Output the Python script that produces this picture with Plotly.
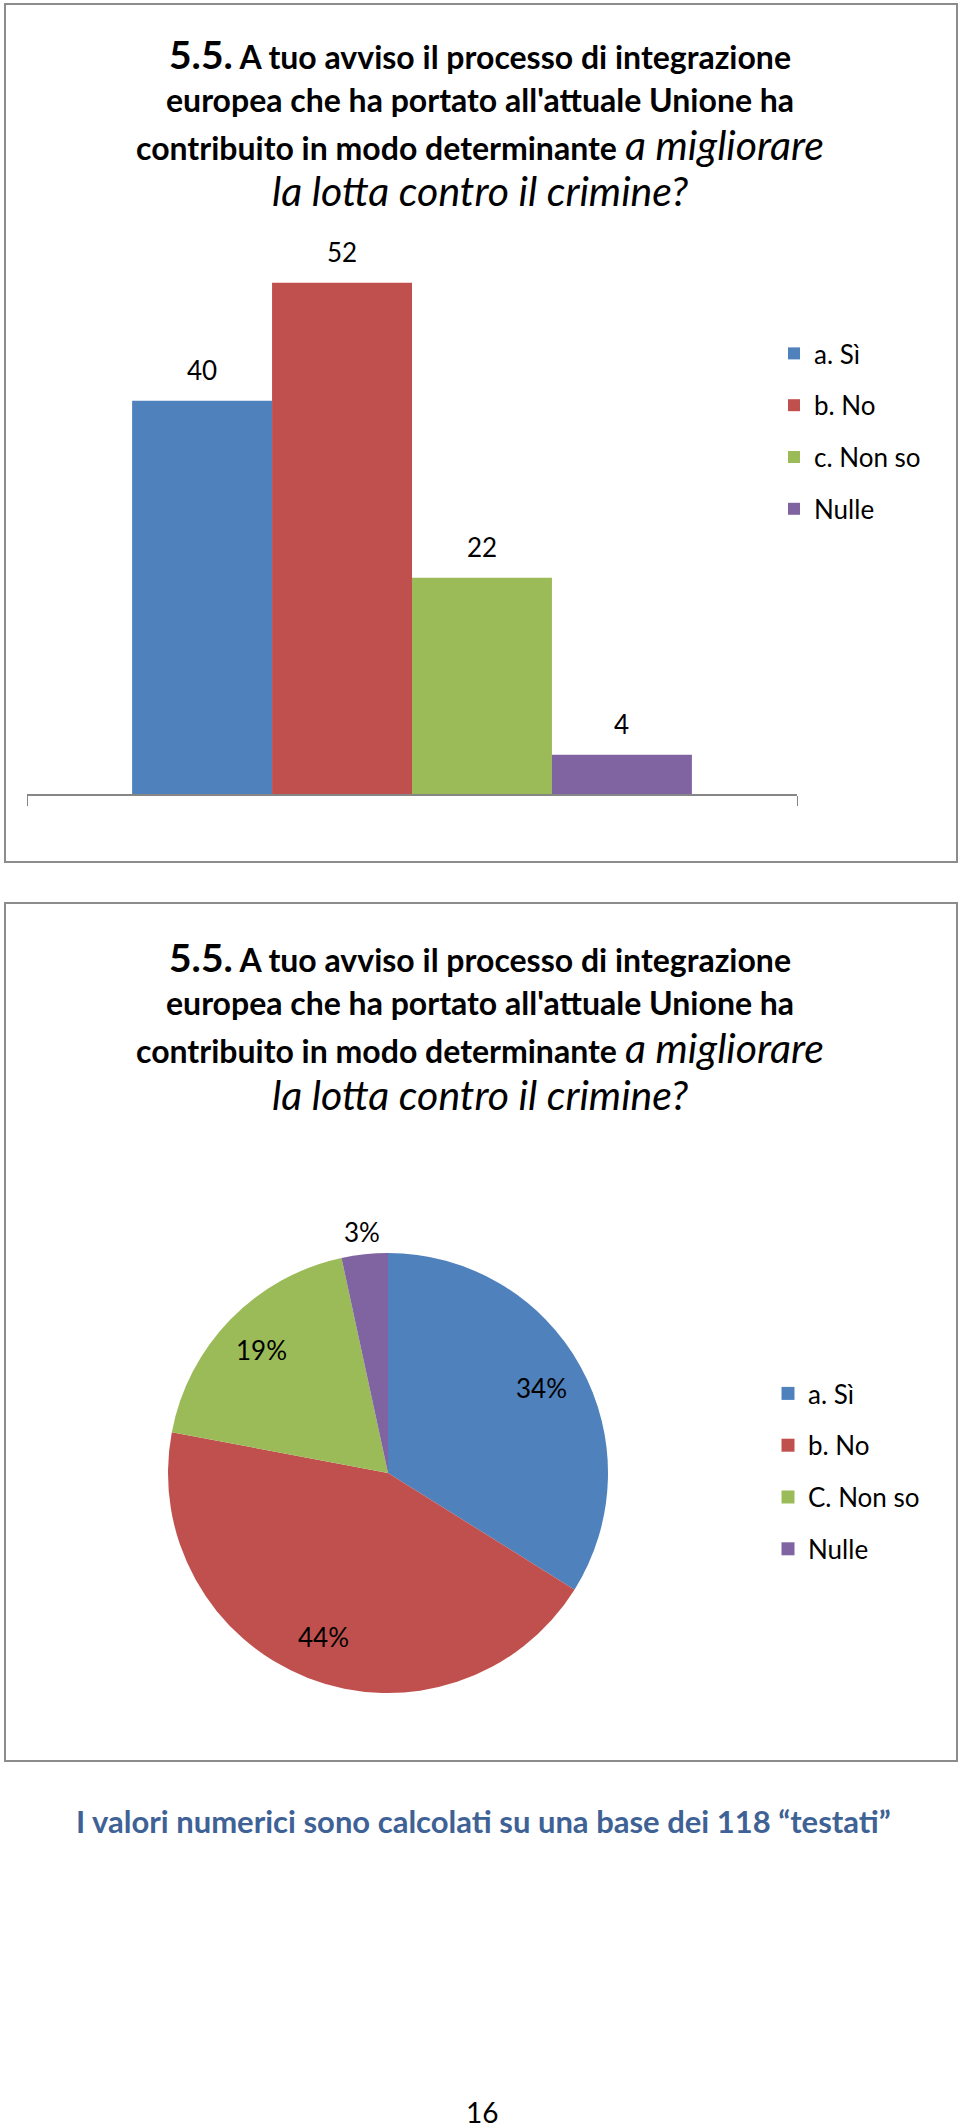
import math
import plotly.graph_objects as go

# ---------------- data ----------------
categories = ["a. Sì", "b. No", "c. Non so", "Nulle"]
pie_labels = ["a. Sì", "b. No", "C. Non so", "Nulle"]
counts = [40, 52, 22, 4]
colors = ["#4F81BD", "#C0504D", "#9BBB59", "#8064A2"]
group_name = ["Risposte"]

title_lines = [
    "<b><span style='font-size:39px'>5.5.</span> A tuo avviso il processo di integrazione</b>",
    "<b>europea che ha portato all'attuale Unione ha</b>",
    "<b>contribuito in modo determinante</b> <i><span style='font-size:41px'>a migliorare</span></i>",
    "<i><span style='font-size:41px'>la lotta contro il crimine?</span></i>",
]
footer_text = "I valori numerici sono calcolati su una base dei 118 “testati”"
page_number = "16"

W, H = 960, 2128
FONT = "Lato, 'Open Sans', sans-serif"
BARGAP = 0.273


def px(x):
    return x / W


def py(y):
    return 1 - y / H


fig = go.Figure()

# ---------------- bar chart ----------------
for name, val, col in zip(categories, counts, colors):
    fig.add_trace(go.Bar(
        x=group_name, y=[val], name=name,
        marker=dict(color=col, line=dict(width=0)),
        legend="legend", legendgroup=name,
        hoverinfo="name+y",
    ))

# ---------------- pie chart ----------------
PIE_CX, PIE_CY, PIE_R = 388, 1473, 220
fig.add_trace(go.Pie(
    labels=pie_labels, values=counts, sort=False, direction="clockwise", rotation=0,
    marker=dict(colors=colors, line=dict(width=0)),
    textinfo="none",
    domain=dict(x=[px(PIE_CX - PIE_R), px(PIE_CX + PIE_R)],
                y=[py(PIE_CY + PIE_R), py(PIE_CY - PIE_R)]),
    showlegend=False,
    hoverinfo="label+percent",
))

# legend entries for the pie (one per slice, spaced like the original)
for name, col in zip(pie_labels, colors):
    fig.add_trace(go.Scatter(
        x=[None], y=[None], mode="markers", name=name,
        marker=dict(symbol="square", size=13, color=col),
        legend="legend2", legendgroup="p_" + name, hoverinfo="skip",
    ))

annotations = []
# titles
for base in (54, 957):
    for i, line in enumerate(title_lines):
        ys = [0, 45, 90, 137][i]
        annotations.append(dict(
            text=line, x=0.5, y=py(base + ys), xref="paper", yref="paper",
            xanchor="center", yanchor="middle", showarrow=False,
            font=dict(family=FONT, size=32, color="#000000"),
        ))

# bar value labels: each bar's slot within the grouped category
n = len(counts)
slot = (1 - BARGAP) / n
for i, val in enumerate(counts):
    annotations.append(dict(
        text=str(val), x=(i - (n - 1) / 2) * slot, y=val, xref="x", yref="y",
        xanchor="center", yanchor="bottom", yshift=13, showarrow=False,
        font=dict(family=FONT, size=26, color="#000000"),
    ))

# pie percentage labels, placed along each slice's mid-angle (Excel "best fit")
total = sum(counts)
cum = 0.0
for v in counts:
    frac = v / total
    mid = (cum + frac / 2) * 2 * math.pi
    r = PIE_R * (1.1 if frac < 0.05 else 0.8)
    lx = PIE_CX + r * math.sin(mid)
    ly = PIE_CY - r * math.cos(mid)
    annotations.append(dict(
        text=f"{round(frac * 100)}%", x=px(lx), y=py(ly), xref="paper", yref="paper",
        xanchor="center", yanchor="middle", showarrow=False,
        font=dict(family=FONT, size=26, color="#000000"),
    ))
    cum += frac

annotations.append(dict(
    text="<b>" + footer_text + "</b>", x=px(483), y=py(1821), xref="paper", yref="paper",
    xanchor="center", yanchor="middle", showarrow=False,
    font=dict(family=FONT, size=31, color="#3F6296"),
))
annotations.append(dict(
    text=page_number, x=px(482), y=py(2112), xref="paper", yref="paper",
    xanchor="center", yanchor="middle", showarrow=False,
    font=dict(family=FONT, size=28, color="#000000"),
))

box_line = dict(color="#8C8C8C", width=2)
shapes = [
    dict(type="rect", xref="paper", yref="paper", x0=px(5), x1=px(957), y0=py(4), y1=py(862),
         line=box_line, fillcolor="rgba(0,0,0,0)", layer="below"),
    dict(type="rect", xref="paper", yref="paper", x0=px(5), x1=px(957), y0=py(903), y1=py(1761),
         line=box_line, fillcolor="rgba(0,0,0,0)", layer="below"),
]

fig.update_layout(
    width=W, height=H,
    margin=dict(l=0, r=0, t=0, b=0),
    paper_bgcolor="white", plot_bgcolor="white",
    font=dict(family=FONT, size=26, color="#000000"),
    barmode="group", bargap=BARGAP, bargroupgap=0,
    xaxis=dict(domain=[px(27), px(797)], showticklabels=False, showgrid=False,
               showline=True, linecolor="#868686", linewidth=1.5,
               ticks="outside", tickson="boundaries", ticklen=10, tickcolor="#868686",
               fixedrange=True, zeroline=False),
    yaxis=dict(domain=[py(794), py(204)], range=[0, 60], visible=False, fixedrange=True),
    legend=dict(x=px(774), y=py(330), xanchor="left", yanchor="top",
                font=dict(family=FONT, size=26), tracegroupgap=15,
                bgcolor="rgba(0,0,0,0)", itemclick=False, traceorder="grouped"),
    legend2=dict(x=px(768), y=py(1370), xanchor="left", yanchor="top",
                 font=dict(family=FONT, size=26), tracegroupgap=15,
                 bgcolor="rgba(0,0,0,0)", itemclick=False, traceorder="grouped"),
    annotations=annotations,
    shapes=shapes,
    showlegend=True,
)

fig.write_html("out.html")
